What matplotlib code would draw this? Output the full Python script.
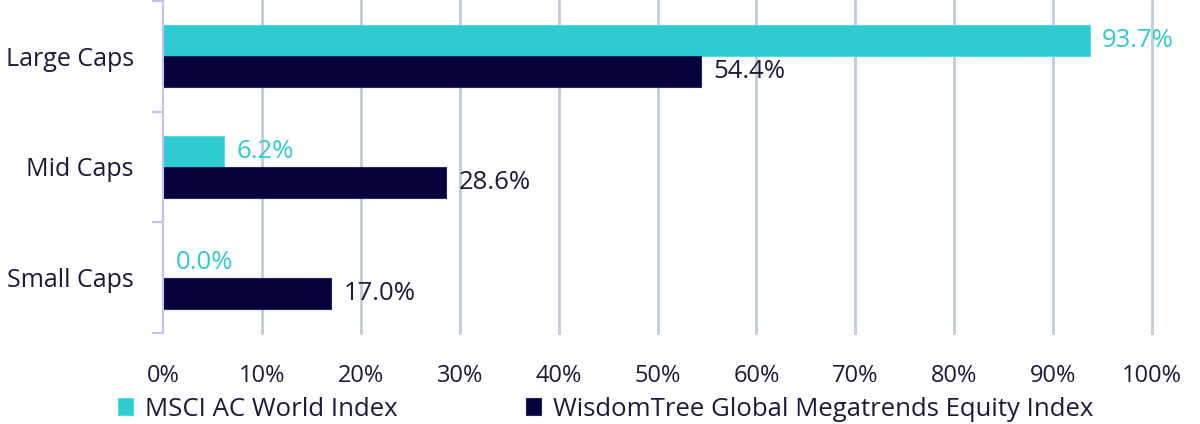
import matplotlib.pyplot as plt
import numpy as np

categories = ["Large Caps", "Mid Caps", "Small Caps"]
msci = [93.7, 6.2, 0.0]
wisdomtree = [54.4, 28.6, 17.0]
series_names = ["MSCI AC World Index", "WisdomTree Global Megatrends Equity Index"]
x_ticks = list(range(0, 101, 10))

cyan = "#2ECBD3"
navy = "#05003A"
text_col = "#1C1A3C"

plt.rcParams['font.family'] = ['Open Sans', 'DejaVu Sans']

fig = plt.figure(figsize=(12, 4.24), dpi=100)
ax = fig.add_axes([163 / 1200, 1 - 333 / 424, (1152 - 163) / 1200, 333 / 424 - 0.002])

y = np.arange(len(categories))
h = 0.28
b1 = ax.barh(y - h / 2, msci, height=h, color=cyan, edgecolor="#5ad8de", linewidth=0.8, label=series_names[0])
b2 = ax.barh(y + h / 2, wisdomtree, height=h, color=navy, edgecolor="#2a2560", linewidth=0.8, label=series_names[1])

for bars, vals, col in [(b1, msci, cyan), (b2, wisdomtree, text_col)]:
    for bar, v in zip(bars, vals):
        ax.annotate(f"{v:.1f}%", (v, bar.get_y() + bar.get_height() / 2),
                    xytext=(9, 0), textcoords="offset points",
                    va="center", ha="left", fontsize=18.5, color=col)

ax.set_xlim(0, 100)
ax.set_ylim(len(categories) - 0.5, -0.5)
ax.set_xticks(x_ticks)
ax.set_xticklabels([f"{t}%" for t in x_ticks])
ax.set_yticks(y)
ax.set_yticklabels(categories)
ax.set_yticks(np.arange(len(categories) + 1) - 0.5, minor=True)

ax.tick_params(axis="x", length=0, pad=22, labelsize=17, labelcolor=text_col)
ax.tick_params(axis="y", which="major", length=0, pad=21, labelsize=18, labelcolor=text_col)
ax.tick_params(axis="y", which="minor", length=8, width=1.5, color="#C8C0F8", direction="out")

ax.set_axisbelow(True)
for t in x_ticks[1:]:
    ax.axvline(t, color="#C0CCD8", linewidth=2, zorder=0, clip_on=False)

for s in ["top", "right", "bottom"]:
    ax.spines[s].set_visible(False)
ax.spines["left"].set_color("#C8C0F8")
ax.spines["left"].set_linewidth(1.5)

fig.legend(handles=[b1, b2], labels=series_names, loc="center left",
           bbox_to_anchor=(118 / 1200, 1 - 409 / 424), ncol=2, frameon=False,
           fontsize=18.5, handlelength=0.6, handleheight=0.6, handletextpad=0.45,
           columnspacing=5.0, labelcolor=text_col, borderaxespad=0, borderpad=0)

fig.savefig("out.png", dpi=100)
